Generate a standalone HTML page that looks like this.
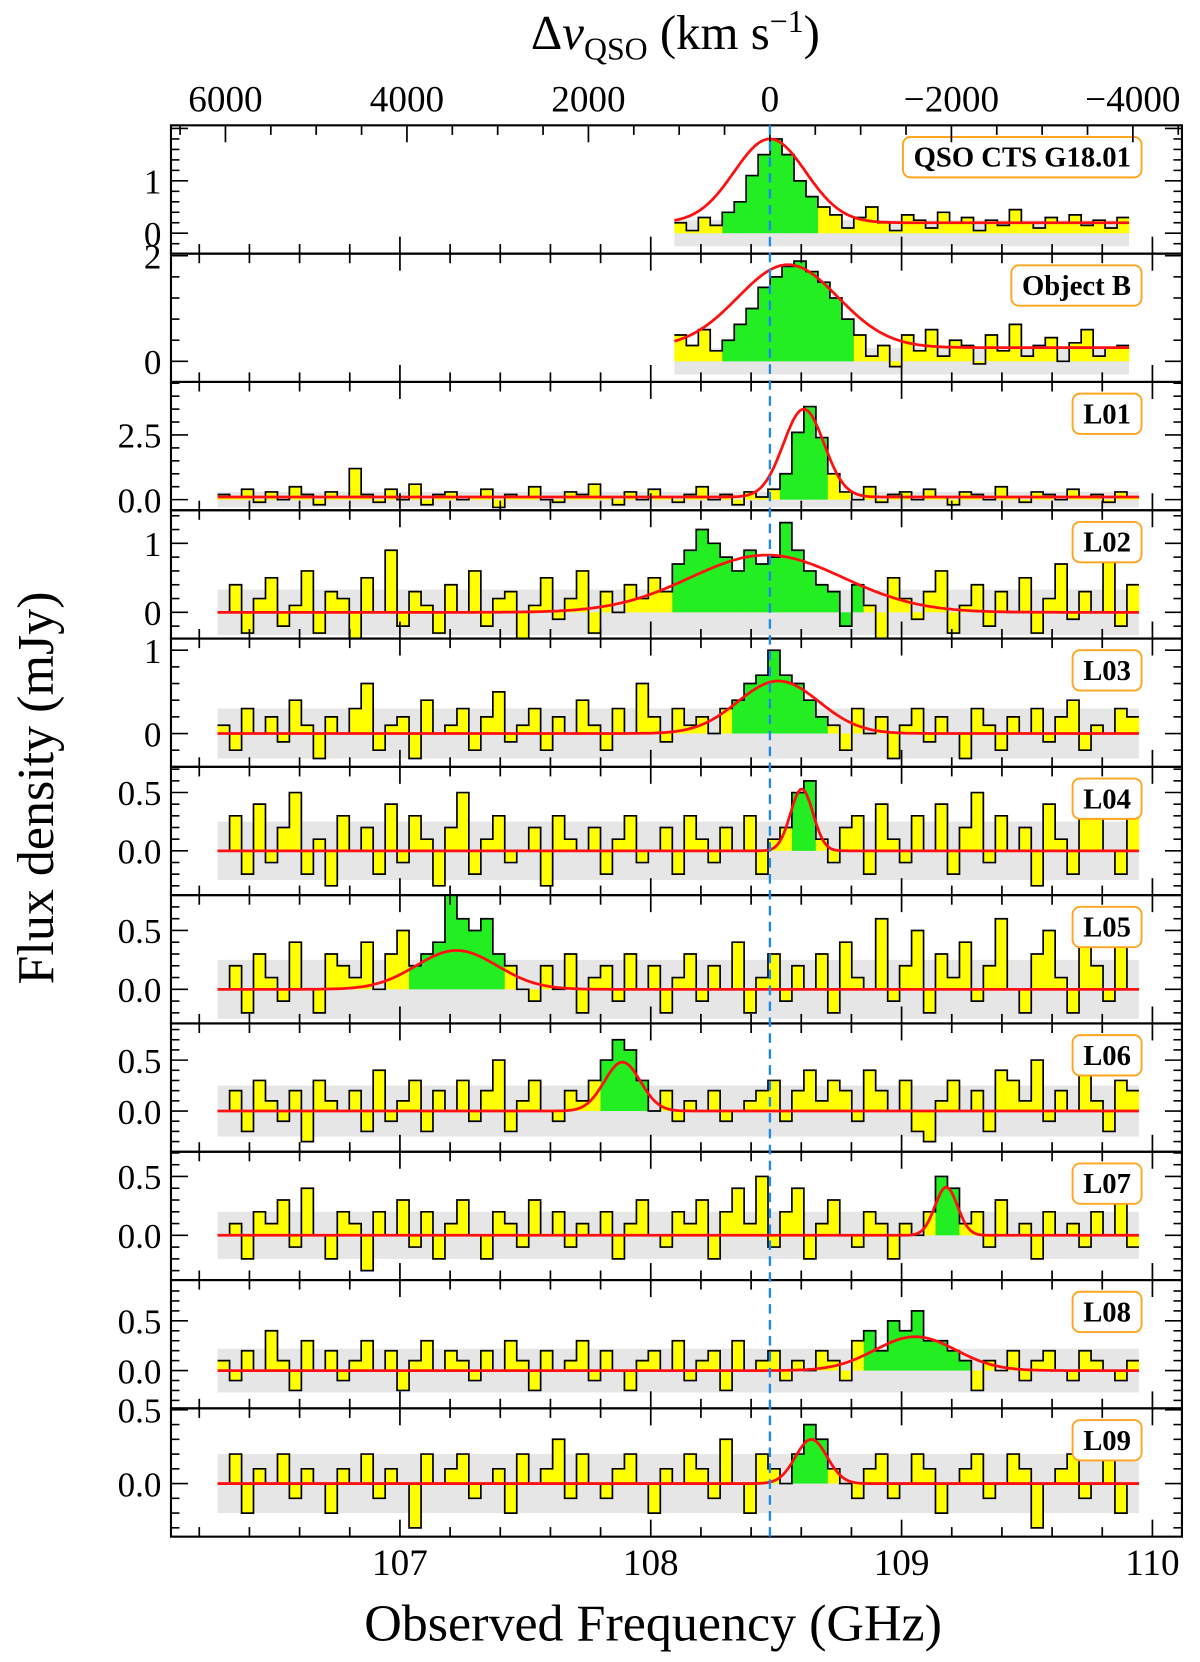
<!DOCTYPE html>
<html><head><meta charset="utf-8"><style>
html,body{margin:0;padding:0;background:#fff}
svg{display:block}
text{font-family:"Liberation Serif","DejaVu Serif",serif;fill:#000}
</style></head><body>
<svg id="chart" xmlns="http://www.w3.org/2000/svg" width="1200" height="1662" viewBox="0 0 1130 1565">
<g id="root"></g>
</svg>
<script>
// ---- data ----
const panelNames = ["QSO CTS G18.01","Object B","L01","L02","L03","L04","L05","L06","L07","L08","L09"];
const startFreq = [108.118,108.118,106.297,106.297,106.297,106.297,106.297,106.297,106.297,106.297,106.297];
const lineCenter = [108.475,108.547,108.61,108.462,108.509,108.602,107.226,107.887,109.178,109.055,108.64];
const lineAmp = [1.6,1.57,3.4,0.83,0.63,0.53,0.33,0.48,0.41,0.34,0.30];
const lineSigma = [0.143,0.2,0.081,0.305,0.162,0.045,0.162,0.072,0.045,0.162,0.063];
const continuum = [0.2,0.26,0.1,0,0,0,0,0,0,0,0];
const noiseRms = [0.25,0.25,0.3,0.33,0.3,0.25,0.25,0.25,0.2,0.22,0.2];
const yMin = [-0.39,-0.39,-0.41,-0.38,-0.40,-0.38,-0.29,-0.40,-0.38,-0.38,-0.36];
const yMax = [2.06,2.04,4.55,1.48,1.14,0.72,0.80,0.86,0.71,0.91,0.51];
const yTicks = [[0,1],[0,2],[0,2.5],[0,1],[0,1],[0,0.5],[0,0.5],[0,0.5],[0,0.5],[0,0.5],[0,0.5]];
const yTickLabels = [["0","1"],["0","2"],["0.0","2.5"],["0","1"],["0","1"],["0.0","0.5"],["0.0","0.5"],["0.0","0.5"],["0.0","0.5"],["0.0","0.5"],["0.0","0.5"]];
const freqTicks = [107,108,109,110];
const velTicks = [6000,4000,2000,0,-2000,-4000];
const velLabels = ["6000","4000","2000","0","\u22122000","\u22124000"];
const fluxQSO = [0.2,0.05,0.3,0.15,0.4,0.6,1.1,1.5,1.8,1.5,1.0,0.7,0.5,0.35,0.1,0.3,0.5,0.2,0.05,0.35,0.25,0.1,0.4,0.2,0.3,0.05,0.25,0.15,0.45,0.2,0.1,0.3,0.2,0.35,0.15,0.25,0.1,0.3];
const fluxObjB = [0.5,0.3,0.6,0.2,0.4,0.7,1.0,1.4,1.6,1.8,1.9,1.7,1.5,1.2,0.8,0.5,0.1,0.3,-0.1,0.5,0.2,0.6,0.1,0.4,0.3,-0.05,0.5,0.2,0.7,0.1,0.3,0.45,0.0,0.35,0.6,0.1,0.25,0.3];
const fluxL01 = [0.2,0.1,0.4,-0.1,0.3,0.0,0.5,0.2,-0.2,0.3,0.1,1.2,0.2,-0.1,0.4,0.0,0.6,-0.2,0.2,0.3,0.0,0.1,0.4,-0.3,0.2,0.1,0.5,0.0,-0.1,0.3,0.2,0.6,0.1,-0.2,0.3,0.0,0.4,0.1,-0.1,0.2,0.5,0.0,0.2,-0.2,0.3,0.1,0.4,1.0,2.6,3.6,2.4,1.0,0.3,0.0,0.5,-0.1,0.2,0.3,0.0,0.4,0.1,-0.2,0.3,0.2,0.0,0.5,0.1,-0.1,0.3,0.2,0.0,0.4,0.1,0.2,-0.1,0.3,0.1];
const fluxL02 = [0.0,0.4,-0.3,0.2,0.5,-0.2,0.1,0.6,-0.3,0.3,0.2,-0.4,0.5,0.0,0.9,-0.2,0.3,0.1,-0.3,0.4,0.0,0.6,-0.2,0.2,0.3,-0.4,0.1,0.5,-0.1,0.2,0.6,-0.3,0.3,0.0,0.4,0.2,0.5,0.3,0.7,0.9,1.2,1.0,0.8,0.6,0.9,0.7,0.8,1.3,0.9,0.6,0.4,0.3,-0.2,0.4,0.1,-0.4,0.5,0.2,-0.1,0.3,0.6,-0.3,0.1,0.4,-0.2,0.3,0.0,0.5,-0.3,0.2,0.7,-0.1,0.3,0.0,0.8,-0.2,0.4];
const fluxL03 = [0.1,-0.2,0.3,0.0,0.2,-0.1,0.4,0.1,-0.3,0.2,0.0,0.3,0.6,-0.2,0.1,0.2,-0.3,0.4,0.0,0.1,0.3,-0.2,0.2,0.5,-0.1,0.1,0.3,-0.2,0.2,0.0,0.4,0.1,-0.2,0.3,0.0,0.6,0.2,-0.1,0.3,0.1,0.2,0.0,0.3,0.4,0.6,0.7,1.0,0.7,0.6,0.4,0.2,0.1,-0.2,0.3,0.0,0.2,-0.3,0.1,0.3,-0.1,0.2,0.0,-0.3,0.3,0.1,-0.2,0.2,0.0,0.3,-0.1,0.2,0.4,-0.2,0.1,0.0,0.3,0.2];
const fluxL04 = [0.0,0.3,-0.2,0.4,-0.1,0.2,0.5,-0.2,0.1,-0.3,0.3,0.0,0.2,-0.2,0.4,-0.1,0.3,0.1,-0.3,0.2,0.5,-0.2,0.1,0.3,-0.1,0.0,0.2,-0.3,0.3,0.1,0.0,0.2,-0.2,0.1,0.3,-0.1,0.0,0.2,-0.2,0.3,0.1,-0.1,0.2,0.0,0.3,-0.2,0.1,0.2,0.5,0.6,0.1,-0.1,0.2,0.3,-0.2,0.4,0.1,-0.1,0.3,0.0,0.4,-0.2,0.2,0.5,-0.1,0.3,0.0,0.2,-0.3,0.4,0.1,-0.2,0.3,0.5,0.0,-0.2,0.3];
const fluxL05 = [0.0,0.2,-0.2,0.3,0.1,-0.1,0.4,0.0,-0.2,0.3,0.2,0.1,0.4,0.0,0.3,0.5,0.2,0.3,0.4,0.9,0.6,0.5,0.6,0.3,0.2,0.0,-0.1,0.2,0.0,0.3,-0.2,0.1,0.2,-0.1,0.3,0.0,0.2,-0.2,0.1,0.3,-0.1,0.2,0.0,0.4,-0.2,0.1,0.3,-0.1,0.2,0.0,0.3,-0.2,0.4,0.1,0.0,0.6,-0.1,0.2,0.5,-0.2,0.3,0.1,0.4,-0.1,0.2,0.6,0.0,-0.2,0.3,0.5,0.1,-0.2,0.4,0.2,-0.1,0.6,0.0];
const fluxL06 = [0.0,0.2,-0.2,0.3,0.1,-0.1,0.2,-0.3,0.3,0.1,0.0,0.2,-0.2,0.4,-0.1,0.1,0.3,-0.2,0.2,0.0,0.3,-0.1,0.2,0.5,-0.2,0.1,0.3,0.0,-0.1,0.2,0.1,0.3,0.5,0.7,0.6,0.3,0.0,0.2,-0.1,0.1,0.0,0.2,-0.1,0.0,0.1,0.2,0.3,-0.1,0.2,0.4,0.1,0.3,0.2,-0.1,0.4,0.2,0.0,0.3,-0.2,-0.3,0.1,0.3,0.0,0.2,-0.2,0.4,0.3,0.1,0.5,-0.1,0.2,0.0,0.4,0.1,-0.2,0.3,0.2];
const fluxL07 = [0.0,0.1,-0.2,0.2,0.1,0.3,-0.1,0.4,0.0,-0.2,0.2,0.1,-0.3,0.2,0.0,0.3,-0.1,0.2,-0.2,0.1,0.3,0.0,-0.2,0.2,0.1,-0.1,0.3,0.0,0.2,-0.1,0.1,0.0,0.2,-0.2,0.1,0.3,0.0,-0.1,0.2,0.1,0.3,-0.2,0.2,0.4,0.1,0.5,-0.1,0.2,0.4,-0.2,0.1,0.3,0.0,-0.1,0.2,0.1,-0.2,0.1,0.0,0.2,0.5,0.4,0.1,0.2,-0.1,0.3,0.0,0.1,-0.2,0.2,0.0,0.1,-0.1,0.2,0.0,0.3,-0.1];
const fluxL08 = [0.1,-0.1,0.2,0.0,0.4,0.1,-0.2,0.3,0.0,0.2,-0.1,0.1,0.3,0.0,0.2,-0.2,0.1,0.3,0.0,0.2,0.1,-0.1,0.2,0.0,0.3,0.1,-0.2,0.2,0.0,0.1,0.3,-0.1,0.2,0.0,-0.2,0.1,0.2,0.0,0.3,-0.1,0.1,0.2,-0.2,0.3,0.0,0.1,0.2,-0.1,0.1,0.0,0.2,0.1,-0.1,0.3,0.4,0.2,0.5,0.4,0.6,0.3,0.3,0.2,0.1,-0.2,0.1,0.0,0.2,-0.1,0.1,0.2,0.0,-0.1,0.2,0.1,0.0,-0.1,0.1];
const fluxL09 = [0.0,0.2,-0.2,0.1,0.0,0.2,-0.1,0.1,0.0,-0.2,0.1,0.0,0.2,-0.1,0.1,0.0,-0.3,0.2,0.0,0.1,0.2,-0.1,0.0,0.1,-0.2,0.2,0.0,0.1,0.3,-0.1,0.2,0.0,-0.1,0.1,0.2,0.0,-0.2,0.1,0.0,0.2,0.1,-0.1,0.3,0.0,-0.2,0.2,0.1,0.0,0.2,0.4,0.3,0.1,0.0,-0.1,0.1,0.2,-0.1,0.0,0.2,0.1,-0.2,0.0,0.1,0.2,-0.1,0.0,0.2,0.1,-0.3,0.0,0.1,0.2,-0.1,0.0,0.3,-0.2,0.0];
const fluxes = [fluxQSO,fluxObjB,fluxL01,fluxL02,fluxL03,fluxL04,fluxL05,fluxL06,fluxL07,fluxL08,fluxL09];
const chanWidth = 0.0477;

// ---- layout ----
const NS = "http://www.w3.org/2000/svg";
const root = document.getElementById('root');
const L = 161, R = 1113, TOP = 118, BOT = 1447;
const PH = (BOT - TOP) / 11;
const xF = f => 376.6 + (f - 107) * 236.2;
const xV = v => 725 - v * 0.08545;
function mk(tag, attrs, parent) {
  const e = document.createElementNS(NS, tag);
  for (const k in attrs) e.setAttribute(k, attrs[k]);
  (parent || root).appendChild(e);
  return e;
}

for (let p = 0; p < 11; p++) {
  const g = mk('g', {});
  
  
  const y0 = TOP + p * PH, y1 = y0 + PH;
  const yS = v => y1 - (v - yMin[p]) / (yMax[p] - yMin[p]) * PH;
  const data = fluxes[p];
  const fs = startFreq[p];
  const fe = fs + chanWidth * (data.length - 1);
  const cp = mk('clipPath', {id: 'cp' + p}, g);
  mk('rect', {x: L, y: y0, width: R - L, height: PH}, cp);
  const inner = mk('g', {'clip-path': 'url(#cp' + p + ')'}, g);
  const band = mk('rect', {x: xF(fs - chanWidth / 2), y: yS(noiseRms[p]), width: xF(fe + chanWidth / 2) - xF(fs - chanWidth / 2), height: yS(-noiseRms[p]) - yS(noiseRms[p]), fill: '#e6e6e6'}, inner);
  
  
  data.forEach((v, i) => {
    const f = fs + chanWidth * i;
    const green = Math.abs(f - lineCenter[p]) <= Math.max(1.25 * lineSigma[p], 0.06);
    const ya = yS(v), yb = yS(0);
    const r = mk('rect', {x: xF(f - chanWidth / 2), y: Math.min(ya, yb), width: xF(f + chanWidth / 2) - xF(f - chanWidth / 2) + 0.3, height: Math.abs(ya - yb), fill: green ? '#22ee22' : '#ffff00'}, inner);
    
    
  });
  let d = '';
  data.forEach((v, i) => {
    const f = fs + chanWidth * i;
    const a = xF(f - chanWidth / 2), b = xF(f + chanWidth / 2), y = yS(v);
    d += (i === 0 ? 'M' : 'L') + a.toFixed(1) + ',' + y.toFixed(1) + 'L' + b.toFixed(1) + ',' + y.toFixed(1);
  });
  const st = mk('path', {d: d, fill: 'none', stroke: '#000', 'stroke-width': 1.6}, inner);
  
  
  let gd = '';
  const fa = fs - chanWidth / 2, fb = fe + chanWidth / 2;
  for (let k = 0; k <= 400; k++) {
    const f = fa + (fb - fa) * k / 400;
    const v = continuum[p] + lineAmp[p] * Math.exp(-0.5 * Math.pow((f - lineCenter[p]) / lineSigma[p], 2));
    gd += (k ? 'L' : 'M') + xF(f).toFixed(1) + ',' + yS(v).toFixed(1);
  }
  const gf = mk('path', {d: gd, fill: 'none', stroke: '#ff1010', 'stroke-width': 2.6}, inner);
  
  
  const fr = mk('rect', {x: L, y: y0, width: R - L, height: PH, fill: 'none', stroke: '#000', 'stroke-width': 2}, g);
  
  
  for (let k = 0; k <= 20; k++) {
    const f = 106.2 + 0.2 * k;
    const x = xF(f);
    if (x <= L || x >= R) continue;
    const major = Math.abs(f - Math.round(f)) < 1e-6;
    const len = major ? 16 : 9;
    mk('line', {x1: x, x2: x, y1: y1, y2: y1 - len, stroke: '#000', 'stroke-width': 1.6}, g);
    if (p > 0) mk('line', {x1: x, x2: x, y1: y0, y2: y0 + len, stroke: '#000', 'stroke-width': 1.6}, g);
  }
  const step = yTicks[p][1] - yTicks[p][0];
  const minor = step / 5;
  for (let v = Math.ceil(yMin[p] / minor) * minor; v <= yMax[p]; v += minor) {
    const y = yS(v);
    if (y < y0 + 1 || y > y1 - 1) continue;
    const isMaj = Math.abs(v / step - Math.round(v / step)) < 1e-6;
    const len = isMaj ? 16 : 8;
    mk('line', {x1: L, x2: L + len, y1: y, y2: y, stroke: '#000', 'stroke-width': 1.5}, g);
    mk('line', {x1: R, x2: R - len, y1: y, y2: y, stroke: '#000', 'stroke-width': 1.5}, g);
  }
  yTicks[p].forEach((v, i) => {
    const t = mk('text', {x: 152, y: yS(v) + 12, 'text-anchor': 'end', 'font-size': 33}, g);
    t.textContent = yTickLabels[p][i];
    
    
  });
  const lg = mk('g', {}, g);
  
  
  const box = mk('rect', {x: 0, y: y0 + 11, width: 10, height: 38, rx: 7, fill: '#fff', stroke: '#ffa520', 'stroke-width': 1.8}, lg);
  const lt = mk('text', {x: 0, y: y0 + 39, 'text-anchor': 'middle', 'font-size': 27, 'font-weight': 'bold'}, lg);
  lt.textContent = panelNames[p];
  const w = lt.getComputedTextLength() + 20;
  box.setAttribute('x', 1075 - w);
  box.setAttribute('width', w);
  lt.setAttribute('x', 1075 - w / 2);
}

for (let v = -4500; v <= 6500; v += 500) {
  const x = xV(v);
  if (x <= L || x >= R) continue;
  const major = v % 2000 === 0;
  mk('line', {x1: x, x2: x, y1: TOP, y2: TOP + (major ? 16 : 9), stroke: '#000', 'stroke-width': 1.6});
}
velTicks.forEach((v, i) => {
  const t = mk('text', {x: xV(v), y: 105, 'text-anchor': 'middle', 'font-size': 35});
  t.textContent = velLabels[i];
  
  
});
freqTicks.forEach(f => {
  const t = mk('text', {x: xF(f), y: 1483, 'text-anchor': 'middle', 'font-size': 35});
  t.textContent = String(f);
  
  
});
const dl = mk('line', {x1: xV(0), x2: xV(0), y1: TOP, y2: BOT, stroke: '#1e88ee', 'stroke-width': 2.2, 'stroke-dasharray': '9,6'});


const tt = mk('text', {x: 636, y: 46, 'text-anchor': 'middle', 'font-size': 46});
tt.innerHTML = 'Δ<tspan font-style="italic">v</tspan><tspan font-size="30" dy="10">QSO</tspan><tspan dy="-10"> (km s</tspan><tspan font-size="30" dy="-16">−1</tspan><tspan dy="16">)</tspan>';


const xt = mk('text', {x: 615, y: 1545, 'text-anchor': 'middle', 'font-size': 49});
xt.textContent = 'Observed Frequency (GHz)';


const yt = mk('text', {x: 0, y: 0, 'text-anchor': 'middle', 'font-size': 49, transform: 'translate(50,742) rotate(-90)'});
yt.textContent = 'Flux density (mJy)';


</script>
</body></html>
